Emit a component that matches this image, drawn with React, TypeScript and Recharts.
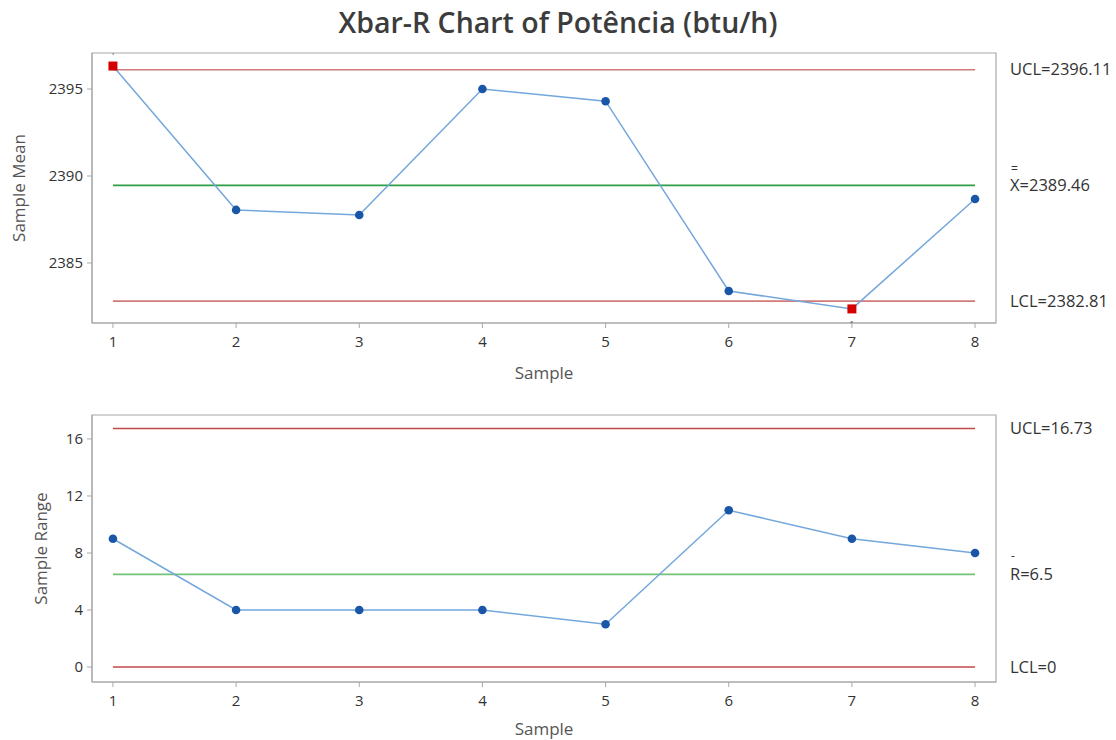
import React from 'react';
import { LineChart, Line, XAxis, YAxis, ReferenceLine, ReferenceArea } from 'recharts';

const samples = [1, 2, 3, 4, 5, 6, 7, 8];
const sampleMeans = [2396.32, 2388.05, 2387.76, 2395.0, 2394.3, 2383.39, 2382.36, 2388.68];
const sampleRanges = [9, 4, 4, 4, 3, 11, 9, 8];
const meanUCL = 2396.11;
const meanCenter = 2389.46;
const meanLCL = 2382.81;
const rangeUCL = 16.73;
const rangeCenter = 6.5;
const rangeLCL = 0;
const meanTicks = [2385, 2390, 2395];
const rangeTicks = [0, 4, 8, 12, 16];
const sampleTicks = samples;

const FONT = '"Open Sans", "Noto Sans", sans-serif';
const BORDER = '#a8a8a8';
const TEXT = '#333333';
const LINE_BLUE = '#74a7db';
const DOT_BLUE = '#1a56a8';
const RED = '#d40000';
const X_DOMAIN: [number, number] = [0.83, 8.17];

const meanData = samples.map((s, i) => ({ sample: s, value: sampleMeans[i] }));
const rangeData = samples.map((s, i) => ({ sample: s, value: sampleRanges[i] }));

const makeDot = (ucl: number, lcl: number) => (props: any) => {
  const { cx, cy, value, index } = props;
  if (cx == null || cy == null) return <g key={`d${index}`} />;
  if (value > ucl || value < lcl) {
    const above = value > ucl;
    return (
      <g key={`d${index}`}>
        <rect x={cx - 4.5} y={cy - 4.5} width={9} height={9} fill={RED} />
        <text x={cx} y={above ? cy - 11 : cy + 19} textAnchor="middle" fontSize={9} fill="#555" stroke="none" fontFamily={FONT}>1</text>
      </g>
    );
  }
  return <circle key={`d${index}`} cx={cx} cy={cy} r={4.3} fill={DOT_BLUE} stroke="none" />;
};

const rightLabel = (text: string, bar?: string, barDy?: number) => (props: any) => {
  const vb = props.viewBox || {};
  const x = (vb.x ?? 0) + (vb.width ?? 0) + 14;
  const y = vb.y ?? 0;
  return (
    <g>
      {bar && (
        <text x={x + 1} y={y - (barDy ?? 14)} dy="0.35em" fontSize={12} fill={TEXT} stroke="none" fontFamily={FONT}>{bar}</text>
      )}
      <text x={x} y={y} dy="0.35em" fontSize={16.5} fill={TEXT} stroke="none" fontFamily={FONT}>{text}</text>
    </g>
  );
};

const yTitle = (text: string, dx: number) => (props: any) => {
  const vb = props.viewBox || {};
  const x = (vb.x ?? 0) + dx;
  const y = (vb.y ?? 0) + (vb.height ?? 0) / 2;
  return (
    <text x={x} y={y} transform={`rotate(-90 ${x} ${y})`} textAnchor="middle" dominantBaseline="central" fontSize={17} fill="#555" stroke="none" fontFamily={FONT}>{text}</text>
  );
};

const xTitle = (dy: number) => (props: any) => {
  const vb = props.viewBox || {};
  const x = (vb.x ?? 0) + (vb.width ?? 0) / 2;
  const y = (vb.y ?? 0) + dy;
  return (
    <text x={x} y={y} textAnchor="middle" dominantBaseline="central" fontSize={17} fill="#555" stroke="none" fontFamily={FONT}>Sample</text>
  );
};

const tickStyle = { fontSize: 15, fill: TEXT, fontFamily: FONT, stroke: 'none' };

function ControlPanel(props: {
  data: any[];
  width: number;
  height: number;
  margin: any;
  yDomain: [number, number];
  yTicks: number[];
  ucl: number;
  center: number;
  lcl: number;
  limitColor: string;
  centerColor: string;
  yLabel: string;
  yLabelDx: number;
  xLabelDy: number;
  uclText: string;
  centerText: string;
  centerBar: string;
  centerBarDy: number;
  lclText: string;
}) {
  const p = props;
  return (
    <LineChart width={p.width} height={p.height} data={p.data} margin={p.margin}>
      <XAxis
        dataKey="sample"
        type="number"
        domain={X_DOMAIN}
        ticks={sampleTicks}
        interval={0}
        stroke={BORDER}
        tickSize={5}
        tickMargin={8}
        tick={tickStyle}
        height={60}
        allowDataOverflow
        label={xTitle(p.xLabelDy)}
      />
      <YAxis
        type="number"
        domain={p.yDomain}
        ticks={p.yTicks}
        interval={0}
        stroke={BORDER}
        tickSize={5}
        tickMargin={4}
        tick={tickStyle}
        width={92}
        allowDataOverflow
        label={yTitle(p.yLabel, p.yLabelDx)}
      />
      <ReferenceArea
        x1={X_DOMAIN[0]}
        x2={X_DOMAIN[1]}
        y1={p.yDomain[0]}
        y2={p.yDomain[1]}
        fill="none"
        fillOpacity={0}
        stroke={BORDER}
        strokeWidth={1.2}
        ifOverflow="visible"
      />
      <ReferenceLine segment={[{ x: 1, y: p.ucl }, { x: 8, y: p.ucl }]} stroke={p.limitColor} strokeWidth={1.6} />
      <ReferenceLine segment={[{ x: 1, y: p.center }, { x: 8, y: p.center }]} stroke={p.centerColor} strokeWidth={1.8} />
      <ReferenceLine segment={[{ x: 1, y: p.lcl }, { x: 8, y: p.lcl }]} stroke={p.limitColor} strokeWidth={1.6} />
      <ReferenceLine y={p.ucl} stroke="none" strokeOpacity={0} label={rightLabel(p.uclText)} />
      <ReferenceLine y={p.center} stroke="none" strokeOpacity={0} label={rightLabel(p.centerText, p.centerBar, p.centerBarDy)} />
      <ReferenceLine y={p.lcl} stroke="none" strokeOpacity={0} label={rightLabel(p.lclText)} />
      <Line
        type="linear"
        dataKey="value"
        stroke={LINE_BLUE}
        strokeWidth={1.5}
        dot={makeDot(p.ucl, p.lcl)}
        activeDot={false}
        isAnimationActive={false}
      />
    </LineChart>
  );
}

export default function App() {
  return (
    <div style={{ position: 'absolute', left: 0, top: 0, width: 1116, height: 740, background: '#fff', fontFamily: FONT }}>
      <div style={{ position: 'absolute', left: 0, top: 3, width: 1116, textAlign: 'center', fontSize: 28.5, fontWeight: 600, color: '#3c3c3c', lineHeight: '38px' }}>
        Xbar-R Chart of Potência (btu/h)
      </div>
      <div style={{ position: 'absolute', left: 0, top: 0 }}>
        <ControlPanel
          data={meanData}
          width={1116}
          height={395}
          margin={{ top: 53, right: 120, bottom: 12, left: 0 }}
          yDomain={[2381.55, 2397.07]}
          yTicks={meanTicks}
          ucl={meanUCL}
          center={meanCenter}
          lcl={meanLCL}
          limitColor="#d07a7a"
          centerColor="#2f9e44"
          yLabel="Sample Mean"
          yLabelDx={18}
          xLabelDy={49}
          uclText="UCL=2396.11"
          centerText="X=2389.46"
          centerBar="="
          centerBarDy={17}
          lclText="LCL=2382.81"
        />
      </div>
      <div style={{ position: 'absolute', left: 0, top: 395 }}>
        <ControlPanel
          data={rangeData}
          width={1116}
          height={345}
          margin={{ top: 20, right: 120, bottom: -2, left: 0 }}
          yDomain={[-1.05, 17.68]}
          yTicks={rangeTicks}
          ucl={rangeUCL}
          center={rangeCenter}
          lcl={rangeLCL}
          limitColor="#c04848"
          centerColor="#72c27a"
          yLabel="Sample Range"
          yLabelDx={40}
          xLabelDy={46}
          uclText="UCL=16.73"
          centerText="R=6.5"
          centerBar="-"
          centerBarDy={19}
          lclText="LCL=0"
        />
      </div>
    </div>
  );
}
